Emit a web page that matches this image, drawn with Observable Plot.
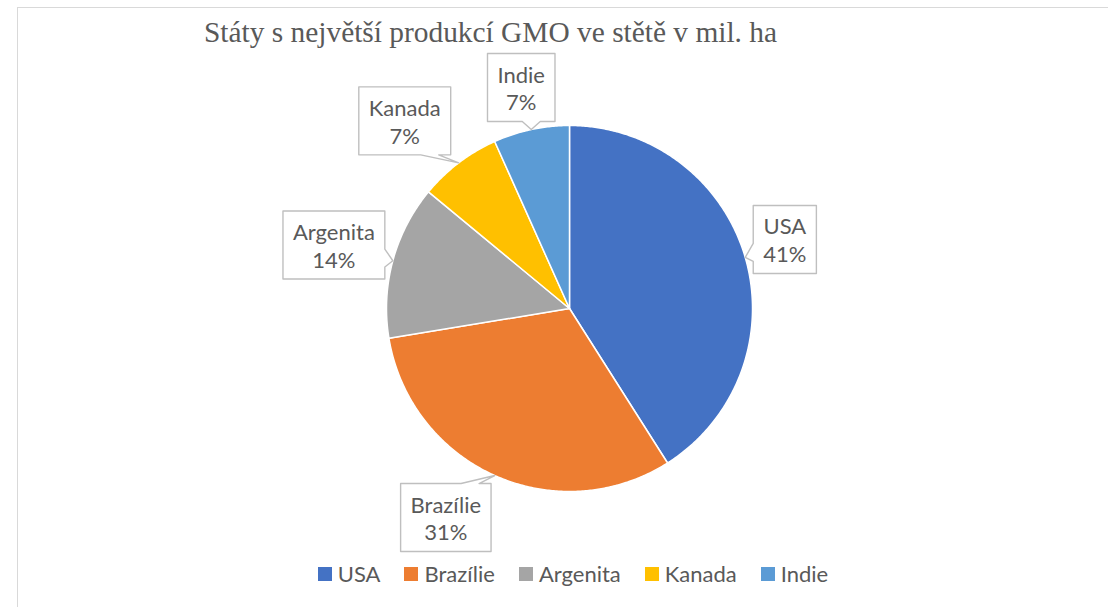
<!DOCTYPE html>
<html><head><meta charset="utf-8">
<script src="https://cdn.jsdelivr.net/npm/d3@7"></script>
<script src="https://cdn.jsdelivr.net/npm/@observablehq/plot@0.6"></script>
<style>
html,body{margin:0;padding:0;background:#fff;}
#wrap{position:relative;width:1108px;height:607px;overflow:hidden;background:#fff;}
#frame{position:absolute;left:17px;top:7px;width:1200px;height:700px;border-top:1.5px solid #d9d9d9;border-left:1.5px solid #d9d9d9;}
#chart{position:absolute;left:0;top:0;}
#title{position:absolute;left:0;width:981px;top:18px;text-align:center;font:29.4px/29px "Liberation Serif","Times New Roman",serif;color:#595959;white-space:nowrap;}
#legend{position:absolute;left:25px;width:1096px;top:557px;}
#legend .lg-swatches-wrap{justify-content:center;margin:0;}
#legend .lg-swatch{margin-right:24px !important;}
#legend .lg-swatch:last-child{margin-right:0 !important;}
#legend .lg-swatch > svg{margin-right:6px !important;}
</style></head><body>
<div id="wrap"><div id="frame"></div><div id="chart"></div><div id="title"></div><div id="legend"></div></div>
<script>
const title = "Státy s největší produkcí GMO ve stětě v mil. ha";
const countries = ["USA", "Brazílie", "Argenita", "Kanada", "Indie"];
const values = [41.0, 31.4, 13.6, 7.3, 6.7];
const colors = ["#4472C4", "#ED7D31", "#A5A5A5", "#FFC000", "#5B9BD5"];

const data = countries.map((name, i) => ({name, value: values[i]}));
const total = d3.sum(values);

// layout constants (pixels)
const R = 183;            // pie radius
const W = 1108, H = 607;
const CX = 569, CY = 308; // pie centre
const FONT = 22;          // legend font
const LFONT = 22;         // callout font

const pie = d3.pie().sort(null).value(d => d.value)(data);

// slice polygons in data units (radius = 1)
const slicePts = [];
for (const p of pie) {
  const n = Math.max(2, Math.ceil((p.endAngle - p.startAngle) / (Math.PI / 360)));
  slicePts.push({name: p.data.name, x: 0, y: 0});
  for (let i = 0; i <= n; i++) {
    const a = p.startAngle + (p.endAngle - p.startAngle) * i / n;
    slicePts.push({name: p.data.name, x: Math.sin(a), y: Math.cos(a)});
  }
}

// callout boxes
const ctx = document.createElement("canvas").getContext("2d");
ctx.font = `${LFONT}px Lato`;
const f = v => Math.sign(v) * Math.min(1, 5.5 * v * v);
const clamp = (v, lo, hi) => Math.max(lo, Math.min(hi, v));
const labels = [], boxPts = [];
for (const p of pie) {
  const a = (p.startAngle + p.endAngle) / 2;
  const ux = Math.sin(a), uy = -Math.cos(a);
  const tx = R * ux, ty = R * uy;
  const pct = Math.round(p.data.value / total * 100) + "%";
  const w = Math.max(ctx.measureText(p.data.name).width, ctx.measureText(pct).width) + 20;
  const h = 68, g = 8;
  const cx = tx + (w / 2 + g) * f(ux), cy = ty + (h / 2 + g) * f(uy);
  const L = cx - w / 2, Rr = cx + w / 2, T = cy - h / 2, B = cy + h / 2;
  const dx = tx - cx, dy = ty - cy;
  const nx = Math.abs(dx) / (w / 2), ny = Math.abs(dy) / (h / 2);
  const hw = 9, m = 12;
  let pts;
  if (ny >= nx) {
    const px = clamp(tx, L + m + hw, Rr - m - hw);
    if (dy < 0) pts = [[L, T], [px - hw, T], [tx, ty], [px + hw, T], [Rr, T], [Rr, B], [L, B]];
    else pts = [[L, T], [Rr, T], [Rr, B], [px + hw, B], [tx, ty], [px - hw, B], [L, B]];
  } else {
    const py = clamp(ty, T + m + hw, B - m - hw);
    if (dx > 0) pts = [[L, T], [Rr, T], [Rr, py - hw], [tx, ty], [Rr, py + hw], [Rr, B], [L, B]];
    else pts = [[L, T], [Rr, T], [Rr, B], [L, B], [L, py + hw], [tx, ty], [L, py - hw]];
  }
  for (const [px, py] of pts) boxPts.push({name: p.data.name, x: px / R, y: -py / R});
  labels.push({name: p.data.name, text: p.data.name + "\n" + pct, x: cx / R, y: -cy / R});
}

const chart = Plot.plot({
  width: W, height: H,
  marginLeft: CX - R, marginRight: W - CX - R,
  marginTop: CY - R, marginBottom: H - CY - R,
  x: {domain: [-1, 1], axis: null},
  y: {domain: [-1, 1], axis: null},
  color: {domain: countries, range: colors},
  style: {overflow: "visible", background: "transparent"},
  marks: [
    Plot.line(slicePts, {x: "x", y: "y", z: "name", fill: "name", stroke: "white", strokeWidth: 1.5, curve: "linear-closed"}),
    Plot.line(boxPts, {x: "x", y: "y", z: "name", fill: "white", stroke: "#bfbfbf", strokeWidth: 1.4, curve: "linear-closed"}),
    Plot.text(labels, {x: "x", y: "y", text: "text", fontSize: LFONT, fontFamily: "Lato", fill: "#595959", lineHeight: 1.27})
  ]
});
document.getElementById("chart").appendChild(chart);
document.getElementById("title").textContent = title;

const leg = Plot.legend({
  color: {type: "ordinal", domain: countries, range: colors},
  swatchSize: 14, className: "lg",
  style: {fontSize: FONT + "px", fontFamily: "Lato", color: "#595959"}
});
document.getElementById("legend").appendChild(leg);
</script>
</body></html>
